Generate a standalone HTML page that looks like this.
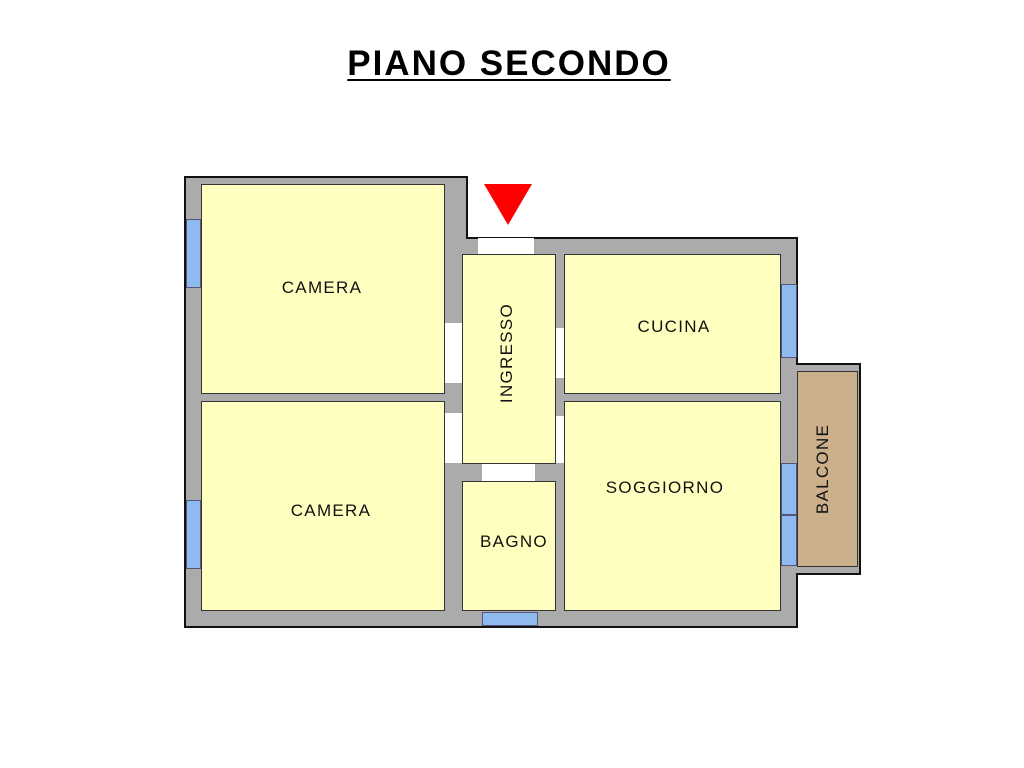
<!DOCTYPE html>
<html><head><style>
body{margin:0;width:1024px;height:768px;background:#fff;position:relative;overflow:hidden;font-family:"Liberation Sans",sans-serif}
.r{position:absolute;background:#ffffc0;border:1px solid #333;box-sizing:border-box}
.w{position:absolute;background:#fff}
.b{position:absolute;background:#8fbaf0;border:1px solid #557;box-sizing:border-box}
.t{position:absolute;font-size:17px;letter-spacing:1.3px;color:#111;white-space:nowrap;transform:translate(-50%,-50%)}
</style></head><body>
<div style="position:absolute;left:0;width:1024px;top:44px;text-align:center;text-indent:-6px;font-size:35px;letter-spacing:2px;font-weight:bold;text-decoration:underline;text-decoration-thickness:2px;text-underline-offset:4px">PIANO SECONDO</div>
<svg style="position:absolute;left:0;top:0" width="1024" height="768">
<polygon points="185,177 467,177 467,238 797,238 797,364 860,364 860,574 797,574 797,627 185,627" fill="#ababab" stroke="#111" stroke-width="2"/>
<polygon points="484,184 532,184 508,225" fill="#f00"/>
</svg>
<div class="w" style="left:478px;top:238px;width:56px;height:17px"></div>
<div class="w" style="left:444px;top:323px;width:19px;height:60px"></div>
<div class="w" style="left:444px;top:413px;width:19px;height:50px"></div>
<div class="w" style="left:554px;top:328px;width:11px;height:50px"></div>
<div class="w" style="left:554px;top:416px;width:11px;height:47px"></div>
<div class="w" style="left:482px;top:463px;width:53px;height:18px"></div>
<div class="r" style="left:201px;top:184px;width:244px;height:210px"></div>
<div class="r" style="left:201px;top:401px;width:244px;height:210px"></div>
<div class="r" style="left:462px;top:254px;width:94px;height:210px"></div>
<div class="r" style="left:462px;top:481px;width:94px;height:130px"></div>
<div class="r" style="left:564px;top:254px;width:217px;height:140px"></div>
<div class="r" style="left:564px;top:401px;width:217px;height:210px"></div>
<div class="r" style="left:797px;top:371px;width:61px;height:196px;background:#ccb08c"></div>
<div class="b" style="left:186px;top:219px;width:15px;height:69px"></div>
<div class="b" style="left:186px;top:500px;width:15px;height:69px"></div>
<div class="b" style="left:781px;top:284px;width:16px;height:74px"></div>
<div class="b" style="left:781px;top:463px;width:16px;height:52px"></div>
<div class="b" style="left:781px;top:515px;width:16px;height:51px"></div>
<div class="b" style="left:482px;top:612px;width:56px;height:14px"></div>
<div class="t" style="left:322px;top:288px">CAMERA</div>
<div class="t" style="left:331px;top:511px">CAMERA</div>
<div class="t" style="left:674px;top:327px">CUCINA</div>
<div class="t" style="left:665px;top:488px">SOGGIORNO</div>
<div class="t" style="left:514px;top:542px">BAGNO</div>
<div class="t" style="left:507px;top:353px;transform:translate(-50%,-50%) rotate(-90deg)">INGRESSO</div>
<div class="t" style="left:823px;top:469px;transform:translate(-50%,-50%) rotate(-90deg)">BALCONE</div>
</body></html>
